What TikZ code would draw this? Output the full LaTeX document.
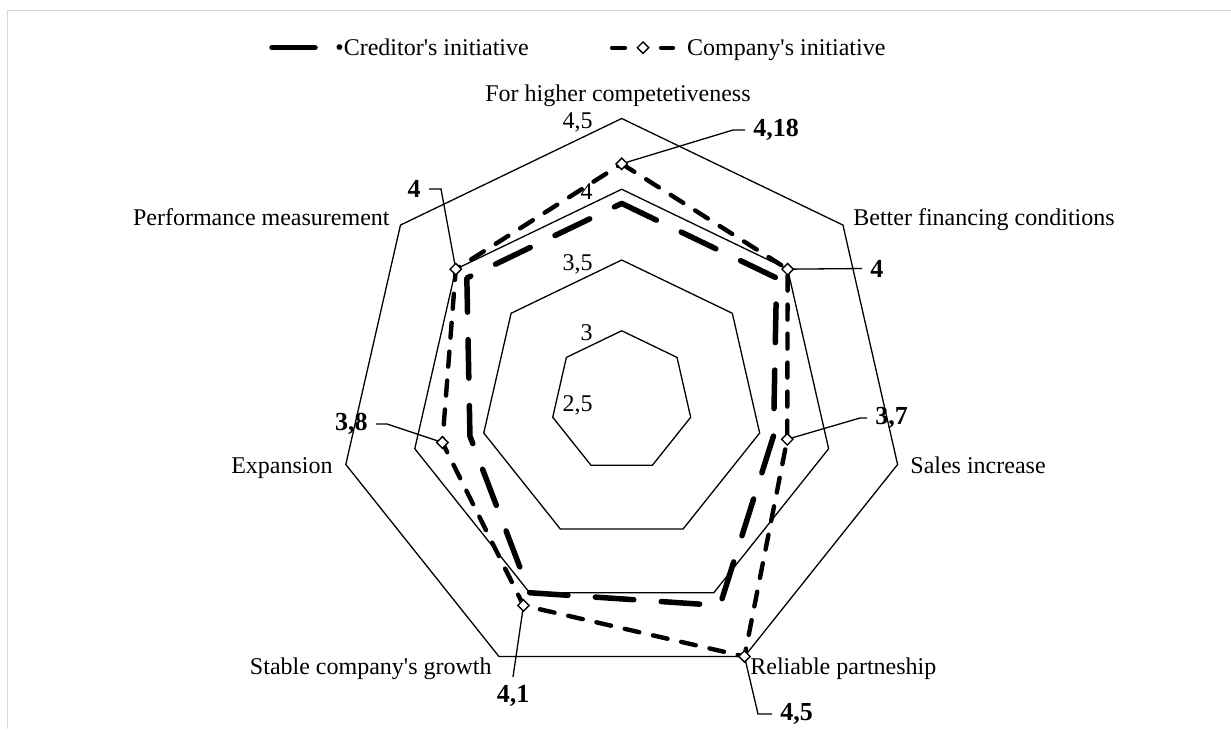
\documentclass[tikz,border=0pt]{standalone}
\usepackage{fontspec}
\setmainfont{Liberation Serif}
\usetikzlibrary{calc,shapes.geometric}
\newcommand\apo{\textquotesingle}
\begin{document}
\begin{tikzpicture}[x=0.5pt,y=-0.5pt,
  gridline/.style={line width=0.65pt,line join=miter},
  credline/.style={line width=2.75pt,line cap=round,line join=round,dash pattern=on 19.25pt off 13.75pt},
  compline/.style={line width=2.2pt,line cap=round,line join=round,dash pattern=on 7.5pt off 7pt},
  leader/.style={line width=0.65pt},
  diam/.style={shape=diamond,draw,fill=white,line width=0.7pt,inner sep=0pt,minimum width=6pt,minimum height=6pt},
  cat/.style={inner sep=0pt,font=\fontsize{12pt}{14pt}\selectfont},
  ticklab/.style={inner sep=0pt,anchor=base east,font=\fontsize{12pt}{14pt}\selectfont},
  vallab/.style={inner xsep=4pt,inner ysep=4pt,font=\fontsize{13pt}{15pt}\selectfont\bfseries},
  frameline/.style={draw=black!15,line width=0.75pt}
]
\useasboundingbox (0,0) rectangle (1231,729);
\fill[white] (0,0) rectangle (1231,729);
% chart area border (top and left edges)
\draw[frameline] (1231,10.5) -- (7.5,10.5) -- (7.5,729);

% centre of the radar and radius unit: value v sits at 141.5*(v-2.5)
\coordinate (C) at (621.7,401.5);

% grid rings 3 ... 4.5
\foreach \v in {3,3.5,4,4.5} {
  \draw[gridline] ($(C)+(-90:{141.5*(\v-2.5)})$)
    \foreach \k in {1,...,6} { -- ($(C)+({\k*360/7-90}:{141.5*(\v-2.5)})$) } -- cycle;
}

% ring value labels
\foreach \v/\t in {2.5/{2,5},3/3,3.5/{3,5},4/4,4.5/{4,5}} {
  \node[ticklab] at (593,{401.5-141.5*(\v-2.5)+10}) {\t};
}

% series points
\foreach \val [count=\k from 0] in {3.9,3.9,3.6,4.1,4.0,3.6,3.9}
  \coordinate (cr\k) at ($(C)+({\k*360/7-90}:{141.5*(\val-2.5)})$);
\foreach \val [count=\k from 0] in {4.18,4.0,3.7,4.5,4.1,3.8,4.0}
  \coordinate (co\k) at ($(C)+({\k*360/7-90}:{141.5*(\val-2.5)})$);

% Creditor's initiative
\draw[credline] (cr0) -- (cr1) -- (cr2) -- (cr3) -- (cr4) -- (cr5) -- (cr6) -- cycle;
% Company's initiative
\draw[compline] (co0) -- (co1) -- (co2) -- (co3) -- (co4) -- (co5) -- (co6) -- cycle;

% value labels of the company series
\node[vallab,anchor=west]  (v0) at (745,130) {4,18};
\node[vallab,anchor=west]  (v1) at (862,268.5) {4};
\node[vallab,anchor=west]  (v2) at (867,418) {3,7};
\node[vallab,anchor=west]  (v3) at (772,714) {4,5};
\node[vallab,anchor=north] (v4) at (513,677) {4,1};
\node[vallab,anchor=east]  (v5) at (376,424) {3,8};
\node[vallab,anchor=east]  (v6) at (429,189) {4};

% leader lines
\draw[leader] (co0) -- ([xshift=-6pt]v0.west) -- (v0.west);
\draw[leader] (co1) -- (v1.west);
\draw[leader] (co2) -- ([xshift=-3.5pt]v2.west) -- (v2.west);
\draw[leader] (co3) -- ([xshift=-7pt]v3.west) -- (v3.west);
\draw[leader] (co4) -- (v4.north);
\draw[leader] (co5) -- ([xshift=5.5pt]v5.east) -- (v5.east);
\draw[leader] (co6) -- ([xshift=6pt]v6.east) -- (v6.east);

% markers
\foreach \k in {0,...,6} \node[diam] (m\k) at (co\k) {};

% category labels
\node[cat,anchor=base]      (a0) at (618,101) {For higher competetiveness};
\node[cat,anchor=base west] (a1) at (853,225) {Better financing conditions};
\node[cat,anchor=base west] (a2) at (910,473) {Sales increase};
\node[cat,anchor=base west] (a3) at (750,674) {Reliable partneship};
\node[cat,anchor=base east] (a4) at (492,674) {Stable company\apo s growth};
\node[cat,anchor=base east] (a5) at (333,473) {Expansion};
\node[cat,anchor=base east] (a6) at (390,225) {Performance measurement};

% legend
\draw[line width=2.75pt,line cap=round] (272,47.7) -- (315,47.7);
\node[cat,anchor=base west] (lg1) at (335,55.5) {•Creditor\apo s initiative};
\draw[line width=2.1pt,line cap=round] (612,47.7) -- (625,47.7);
\draw[line width=2.1pt,line cap=round] (661,47.7) -- (673,47.7);
\node[diam] (lgm) at (643,47.7) {};
\node[cat,anchor=base west] (lg2) at (686.7,55.5) {Company\apo s initiative};
\end{tikzpicture}
\end{document}
